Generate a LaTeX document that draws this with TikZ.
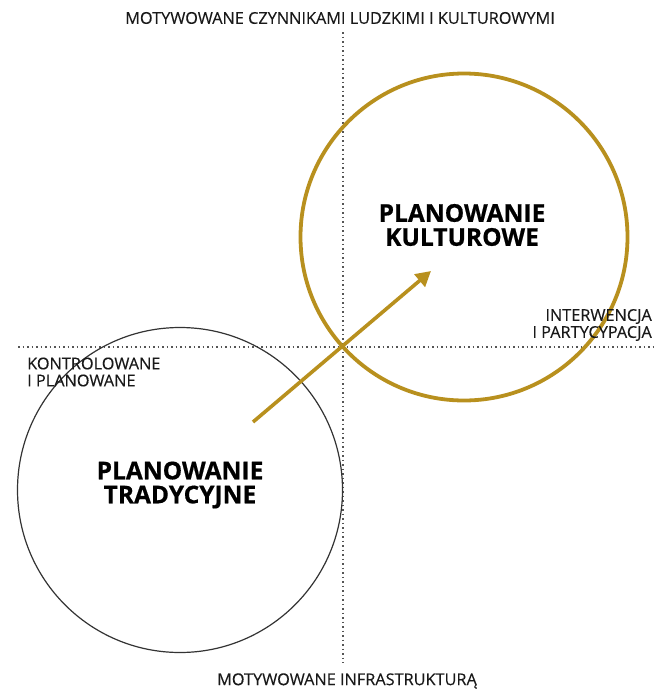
\documentclass[tikz,border=0pt]{standalone}
\usepackage{fontspec}
\setmainfont{Open Sans}
\newfontfamily\heavyfont[FakeBold=0.6]{Open Sans}
\newfontfamily\smallfont[FakeBold=0.25]{Open Sans}
\usetikzlibrary{arrows.meta}
\definecolor{gold}{HTML}{B8901E}
\definecolor{dotgray}{HTML}{555555}
\tikzset{
  axis/.style={dotgray, line width=1.4pt, dash pattern=on 1.5pt off 3pt},
  lbl/.style={font=\smallfont\fontsize{16.3}{17}\selectfont, inner sep=0pt, text=black!90},
  big/.style={font=\heavyfont\bfseries\fontsize{24.5}{24}\selectfont, inner sep=0pt, align=center},
}
\begin{document}
\begin{tikzpicture}[x=1pt,y=-1pt]
\useasboundingbox (0,0) rectangle (664,691);
\coordinate (vt) at (343,32);
\coordinate (vb) at (343,663);
\coordinate (hl) at (18,347);
\coordinate (hr) at (655,347);
\draw[axis] (vt) -- (vb);
\draw[axis] (hl) -- (hr);
\node[circle, draw=black!80, line width=1.2pt, minimum size=325pt, inner sep=0pt] (trad) at (180,490) {};
\node[circle, draw=gold, line width=3.8pt, minimum size=327pt, inner sep=0pt] (kult) at (464,237) {};
\node[big] (tradlbl) at (180,485) {PLANOWANIE\\TRADYCYJNE};
\node[big] (kultlbl) at (462,225) {PLANOWANIE\\KULTUROWE};
\node[lbl] (top) at (340,18) {MOTYWOWANE CZYNNIKAMI LUDZKIMI I KULTUROWYMI};
\node[lbl] (bot) at (347,681) {MOTYWOWANE INFRASTRUKTURĄ};
\node[lbl, anchor=west, align=left] (left) at (27,372) {KONTROLOWANE\\I PLANOWANE};
\node[lbl, anchor=east, align=right] (right) at (652,325) {INTERWENCJA\\I PARTYCYPACJA};
\coordinate (as) at (253,422);
\coordinate (ae) at (431,271);
\draw[gold, line width=3.6pt, -{Triangle[length=15pt,width=16pt]}] (as) -- (ae);
\end{tikzpicture}
\end{document}
